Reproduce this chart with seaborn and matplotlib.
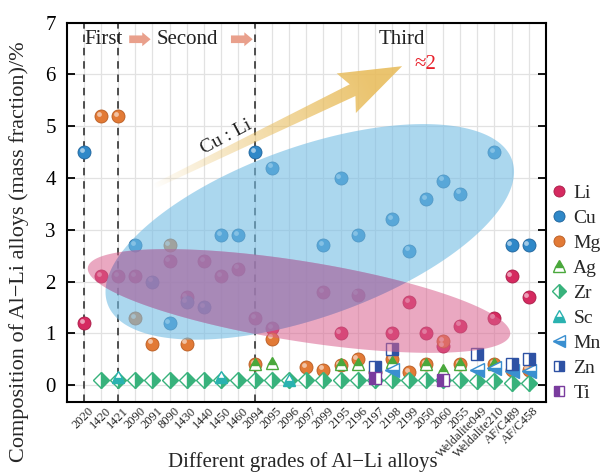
import numpy as np
import pandas as pd
import matplotlib
matplotlib.use("Agg")
import matplotlib.pyplot as plt
import matplotlib.transforms as mtransforms
from matplotlib.patches import Polygon, FancyArrowPatch
from matplotlib.lines import Line2D
import seaborn as sns

nan = np.nan
grades = ["2020", "1420", "1421", "2090", "2091", "8090", "1430", "1440", "1450", "1460",
          "2094", "2095", "2096", "2097", "2099", "2195", "2196", "2197", "2198", "2199",
          "2050", "2060", "2055", "Weldalite049", "Weldalite210", "AF/C489", "AF/C458"]

li = [1.2, 2.1, 2.1, 2.1, nan, 2.4, 1.7, 2.4, 2.1, 2.25, 1.3, 1.1, nan, nan, 1.8, 1.0, 1.75,
      nan, 1.0, 1.6, 1.0, 0.75, 1.15, nan, 1.3, 2.1, 1.7]
cu = [4.5, nan, nan, 2.7, 2.0, 1.2, 1.6, 1.5, 2.9, 2.9, 4.5, 4.2, nan, nan, 2.7, 4.0, 2.9,
      nan, 3.2, 2.6, 3.6, 3.95, 3.7, nan, 4.5, 2.7, 2.7]
mg = [nan, 5.2, 5.2, 1.3, 0.8, 2.7, 0.8, nan, nan, nan, 0.4, 0.9, nan, 0.35, 0.3, 0.38, 0.5,
      0.25, 0.5, 0.25, 0.4, 0.85, 0.4, nan, 0.4, 0.3, 0.3]
ag = [nan, nan, nan, nan, nan, nan, nan, nan, nan, nan, 0.4, 0.42, nan, nan, nan, 0.4, 0.4,
      nan, 0.45, nan, 0.4, 0.3, 0.4, nan, 0.4, nan, nan]
zr = [nan, 0.1, 0.1, 0.1, 0.1, 0.1, 0.1, 0.1, 0.1, 0.1, 0.1, 0.1, 0.1, 0.1, 0.1, 0.1, 0.1,
      0.1, 0.1, 0.1, 0.1, 0.1, 0.1, 0.08, 0.08, 0.05, 0.05]
sc = [nan, nan, 0.15, nan, nan, nan, nan, nan, 0.15, nan, nan, nan, 0.1, nan, nan, nan, nan,
      nan, nan, nan, nan, nan, nan, nan, nan, nan, nan]
mn = [nan, nan, nan, nan, nan, nan, nan, nan, nan, nan, nan, nan, nan, nan, nan, nan, nan,
      nan, 0.3, nan, nan, nan, nan, 0.3, 0.34, 0.27, 0.28]
zn = [nan, nan, nan, nan, nan, nan, nan, nan, nan, nan, nan, nan, nan, nan, nan, nan, nan,
      0.35, 0.7, nan, nan, nan, nan, 0.6, nan, 0.4, 0.5]
ti = [nan, nan, nan, nan, nan, nan, nan, nan, nan, nan, nan, nan, nan, nan, nan, nan, nan,
      0.13, nan, nan, nan, 0.1, nan, nan, nan, nan, nan]
yticks = [0, 1, 2, 3, 4, 5, 6, 7]
generation_lines = [0, 2, 10]

sns.set_theme(style="white")
plt.rcParams["font.family"] = ["Liberation Serif", "DejaVu Serif"]
plt.rcParams["axes.unicode_minus"] = True

W, H = 602, 473
fig = plt.figure(figsize=(W / 100, H / 100), dpi=100)
ax = fig.add_axes([67 / W, (H - 401.7) / H, (545.7 - 67) / W, (401.7 - 22.7) / H])
x = np.arange(len(grades))
ax.set_xlim(-1, 27)
ax.set_ylim(-0.32, 7)

# grid
ax.set_xticks(x)
ax.set_yticks(yticks)
ax.grid(True, color="#e2e2e2", lw=0.9)
ax.set_axisbelow(True)

for gx in generation_lines:
    ax.axvline(gx, color="#333333", ls=(0, (4.5, 3.5)), lw=1.2, zorder=2.2)

# spheres (Li, Cu, Mg)
sphere_cols = {"Li": "#d52a60", "Cu": "#2f88c8", "Mg": "#e27a36"}
sphere_edge = {"Li": "#a81d48", "Cu": "#1f639a", "Mg": "#b85c22"}
df = pd.DataFrame({"pos": np.tile(x, 3), "value": li + cu + mg,
                   "element": ["Li"] * 27 + ["Cu"] * 27 + ["Mg"] * 27}).dropna()
hl_trans = mtransforms.offset_copy(ax.transData, fig=fig, x=-1.6, y=1.6, units="points")
for el in ["Li", "Cu", "Mg"]:
    sub = df[df.element == el]
    sns.scatterplot(data=sub, x="pos", y="value", color=sphere_cols[el], s=88,
                    edgecolor=sphere_edge[el], linewidth=0.6, ax=ax, zorder=3, legend=False)
    ax.scatter(sub.pos, sub.value, s=12, color="white", alpha=0.55, lw=0,
               transform=hl_trans, zorder=3.05)

# half-filled markers
styles = {
    "Ag": dict(vals=ag, marker="^", ms=9, fs="top", c="#4aa83c"),
    "Zr": dict(vals=zr, marker="D", ms=7.8, fs="right", c="#38b27c"),
    "Sc": dict(vals=sc, marker="^", ms=9, fs="bottom", c="#2ab2b0"),
    "Mn": dict(vals=mn, marker="<", ms=9.5, fs="bottom", c="#3a8fd0"),
    "Zn": dict(vals=zn, marker="s", ms=8, fs="right", c="#2e52a4"),
    "Ti": dict(vals=ti, marker="s", ms=8, fs="left", c="#7a3c9e"),
}
order = ["Zr", "Ag", "Sc", "Mn", "Zn", "Ti"]
for i, el in enumerate(order):
    st = styles[el]
    ax.plot(x, st["vals"], ls="none", marker=st["marker"], ms=st["ms"], fillstyle=st["fs"],
            mfc=st["c"], mfcalt="white", mec=st["c"], mew=1.0, zorder=3.2 + i * 0.1)

# ellipses (on top of markers)
t = np.linspace(0, 2 * np.pi, 300)
def ellipse_pts(c, a, b):
    return np.column_stack([c[0] + a[0] * np.cos(t) + b[0] * np.sin(t),
                            c[1] + a[1] * np.cos(t) + b[1] * np.sin(t)])

blue_pts = ellipse_pts((13.2, 2.96), (11.83, 1.39), (-1.67, 1.55))
pink_pts = ellipse_pts((12.57, 1.625), (12.35, -0.648), (0.368, 0.764))
blue = Polygon(blue_pts, closed=True, fc="#74bde4", ec="none", alpha=0.6, zorder=4)
pink = Polygon(pink_pts, closed=True, fc="#d9628f", ec="none", alpha=0.55, zorder=4.1)
ax.add_patch(blue)
ax.add_patch(pink)
over = Polygon(pink_pts, closed=True, fc="#7f76b5", ec="none", alpha=0.4, zorder=4.2)
ax.add_patch(over)
over.set_clip_path(blue)

# big Cu:Li arrow with gradient
T0 = ax.transData.transform((4.1, 3.84))
T1 = ax.transData.transform((18.6, 6.16))
L = np.linalg.norm(T1 - T0)
u = (T1 - T0) / L
n = np.array([-u[1], u[0]])
head_len, head_hw, sw_head, sw_tail = 62, 22, 6.5, 2.5
base = T1 - head_len * u
neck = base + 7 * u
disp_poly = np.array([T0 + sw_tail * n, neck + sw_head * n, base + head_hw * n, T1,
                      base - head_hw * n, neck - sw_head * n, T0 - sw_tail * n])
data_poly = ax.transData.inverted().transform(disp_poly)
arrow_poly = Polygon(data_poly, closed=True, transform=ax.transData)
xmin, ymin = data_poly.min(axis=0)
xmax, ymax = data_poly.max(axis=0)
nx, ny = 400, 200
XX, YY = np.meshgrid(np.linspace(xmin, xmax, nx), np.linspace(ymin, ymax, ny))
D = ax.transData.transform(np.column_stack([XX.ravel(), YY.ravel()]))
tt = ((D - T0) @ u) / L
alpha = np.clip(tt * 1.15, 0, 1) ** 0.8 * 0.88
img = np.zeros((ny, nx, 4))
img[..., 0], img[..., 1], img[..., 2] = 0.91, 0.74, 0.36
img[..., 3] = alpha.reshape(ny, nx)
im = ax.imshow(img, extent=(xmin, xmax, ymin, ymax), origin="lower", aspect="auto",
               interpolation="bilinear", zorder=2.5)
im.set_clip_path(arrow_poly)
ax.set_xlim(-1, 27)
ax.set_ylim(-0.32, 7)

ax.text(8.3, 4.79, "Cu : Li", rotation=28, rotation_mode="anchor", ha="center",
        va="center", fontsize=14, color="#222222", zorder=6)
ax.text(19.95, 6.19, "≈2", ha="center", va="center", fontsize=15, color="#e8202a", zorder=6)

# generation labels
gen_y = 6.68
ax.text(1.15, gen_y, "First", ha="center", va="center", fontsize=15, color="#222222")
ax.text(6.07, gen_y, "Second", ha="center", va="center", fontsize=15, color="#222222")
ax.text(18.57, gen_y, "Third", ha="center", va="center", fontsize=15, color="#222222")
for a0, a1 in [(2.64, 3.89), (8.59, 9.86)]:
    ax.add_patch(FancyArrowPatch((a0, gen_y), (a1, gen_y),
                                 arrowstyle="simple,head_width=1.0,head_length=0.6,tail_width=0.55",
                                 mutation_scale=10, color="#e9a08c", lw=0,
                                 shrinkA=0, shrinkB=0, zorder=5))

# axes styling
for s in ax.spines.values():
    s.set_color("black")
    s.set_linewidth(1.5)
ax.tick_params(axis="y", direction="in", length=6, width=1.3, left=True, right=True,
               labelsize=15, pad=8, colors="black")
ax.tick_params(axis="x", length=0, pad=2)
lbl_off = mtransforms.ScaledTranslation(4 / 100, 0 / 100, fig.dpi_scale_trans)
ax.set_xticklabels(grades, rotation=45, ha="right", va="top", rotation_mode="anchor",
                   fontsize=9)
for lab in ax.get_xticklabels():
    lab.set_transform(lab.get_transform() + lbl_off)

ax.set_xlabel("Different grades of Al\u2212Li alloys", fontsize=15)
ax.set_ylabel("Composition of Al\u2212Li alloys (mass fraction)/%", fontsize=16)
ax.xaxis.set_label_coords(0.492, -0.133)
ax.yaxis.set_label_coords(-0.08, 0.395)

# legend
handles = []
for el in ["Li", "Cu", "Mg"]:
    handles.append(Line2D([], [], ls="none", marker="o", ms=8, mfc=sphere_cols[el],
                          mec=sphere_edge[el], mew=0.6, label=el))
for el in ["Ag", "Zr", "Sc", "Mn", "Zn", "Ti"]:
    st = styles[el]
    handles.append(Line2D([], [], ls="none", marker=st["marker"], ms=st["ms"] * 0.95,
                          fillstyle=st["fs"], mfc=st["c"], mfcalt="white", mec=st["c"],
                          mew=1.0, label=el))
fig.legend(handles=handles, loc="upper left", bbox_to_anchor=(549 / W, (H - 184) / H),
           frameon=False, fontsize=14, handlelength=1.0, handletextpad=0.25,
           labelspacing=0.38, borderpad=0, borderaxespad=0)

fig.savefig("out.png", dpi=100)
